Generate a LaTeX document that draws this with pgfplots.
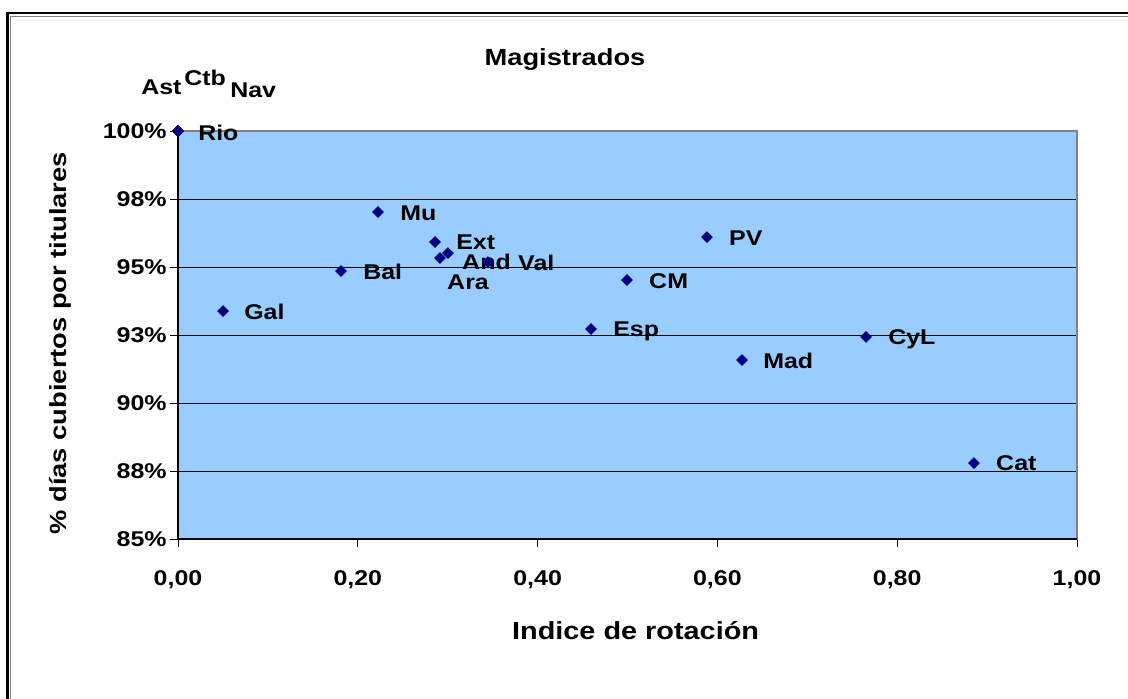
\documentclass[border=0pt]{standalone}
\usepackage{fontspec}
\setmainfont{Liberation Sans}[FakeStretch=1.17]
\usepackage{pgfplots}
\usepackage{pgfplotstable}
\pgfplotsset{compat=1.18}
\definecolor{plotbg}{HTML}{99CCFF}
\definecolor{navy}{HTML}{000080}
\newcommand\lblfont{\fontsize{17.5}{19}\selectfont\bfseries}
\newcommand\tckfont{\fontsize{16}{18}\selectfont\bfseries}
\newcommand\ptfont{\fontsize{16}{18}\selectfont\bfseries}

% x, y (%), label, label offset dx/dy in px
\pgfplotstableread{
x       y       lbl  dx   dy
0.0000  100.00  Rio  20   -2
0.0000  100.00  Ast  -37  44
0.0000  100.00  Ctb  6    53
0.0000  100.00  Nav  52   41
0.2225  97.02   Mu   22   -1
0.2859  95.92   Ext  21   0
0.3003  95.51   And  14   -9
0.2914  95.33   Ara  7    -24
0.3448  95.18   Val  30   -1
0.1813  94.85   Bal  22   -1
0.0501  93.38   Gal  21   -1
0.5884  96.10   PV   22   -1
0.4994  94.52   CM   22   -1
0.4594  92.72   Esp  22   -2
0.6274  91.58   Mad  21   -1
0.7653  92.43   CyL  22   -2
0.8854  87.79   Cat  22   0
}\datatable

\begin{document}
\begin{tikzpicture}
\path[use as bounding box] (0,0) rectangle (846pt,524.25pt);
% outer frame (top and left only)
\draw[black, line width=2.2pt] (5.6pt,0) -- (5.6pt,514.5pt) -- (846pt,514.5pt);
\draw[gray, line width=0.8pt] (7.9pt,0) -- (7.9pt,512.2pt) -- (846pt,512.2pt);

\begin{axis}[
    at={(133.5pt,120pt)}, anchor=south west,
    scale only axis, width=674.25pt, height=306pt,
    xmin=0, xmax=1, ymin=85, ymax=100,
    xtick={0,0.2,0.4,0.6,0.8,1},
    xticklabels={{0,00},{0,20},{0,40},{0,60},{0,80},{1,00}},
    ytick={85,87.5,90,92.5,95,97.5,100},
    yticklabels={85\%,88\%,90\%,93\%,95\%,98\%,100\%},
    xtick pos=left, ytick pos=left,
    tick align=outside, major tick length=6pt,
    tick style={black, line width=0.6pt},
    tick label style={font=\tckfont},
    xticklabel style={yshift=-14pt},
    yticklabel style={xshift=1pt},
    /pgf/number format/assume math mode=true,
    axis background/.style={fill=plotbg},
    axis line style={draw=gray, line width=0.9pt},
    ymajorgrids, grid style={black, line width=0.6pt},
    title={Magistrados},
    title style={at={(axis description cs:0.4305,1.155)}, anchor=center, yshift=0pt, font=\lblfont},
    xlabel={Indice de rotación},
    xlabel style={at={(axis description cs:0.509,-0.2255)}, anchor=center, font=\fontsize{18.5}{20}\selectfont\bfseries},
    ylabel={\% días cubiertos por titulares},
    ylabel style={at={(axis description cs:-0.1313,0.48)}, anchor=center, font=\lblfont},
    clip=false,
]
\draw[black, line width=0.8pt] (rel axis cs:0,1) -- (rel axis cs:0,0) -- (rel axis cs:1,0);
\addplot[only marks, mark=square*, mark size=2.9pt,
    mark options={rotate=45, fill=navy, draw=navy},
    point meta=explicit symbolic,
    visualization depends on={\thisrow{dx} \as \dx},
    visualization depends on={\thisrow{dy} \as \dy},
    nodes near coords,
    nodes near coords style={anchor=west, inner sep=0pt, font=\ptfont, text=black,
        xshift={0.75pt*\dx}, yshift={0.75pt*\dy}},
] table[x=x, y=y, meta=lbl] {\datatable};
\end{axis}
\end{tikzpicture}
\end{document}
